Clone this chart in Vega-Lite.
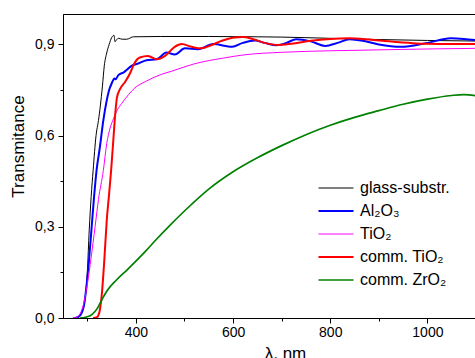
{
  "$schema": "https://vega.github.io/schema/vega-lite/v6.json",
  "width": 413,
  "height": 304,
  "autosize": {"type": "none"},
  "padding": {"left": 63, "top": 14, "right": 0, "bottom": 40},
  "background": "white",
  "config": {"view": {"stroke": "black", "strokeWidth": 1}, "font": "Liberation Sans"},
  "data": {"values": [
    {"s": "glass-substr.", "l": 270, "t": 0},
    {"s": "glass-substr.", "l": 280, "t": 0.003},
    {"s": "glass-substr.", "l": 287, "t": 0.015},
    {"s": "glass-substr.", "l": 292, "t": 0.035},
    {"s": "glass-substr.", "l": 296, "t": 0.07},
    {"s": "glass-substr.", "l": 300, "t": 0.15},
    {"s": "glass-substr.", "l": 304, "t": 0.29},
    {"s": "glass-substr.", "l": 308, "t": 0.4},
    {"s": "glass-substr.", "l": 312, "t": 0.485},
    {"s": "glass-substr.", "l": 318, "t": 0.6},
    {"s": "glass-substr.", "l": 323, "t": 0.65},
    {"s": "glass-substr.", "l": 327, "t": 0.7},
    {"s": "glass-substr.", "l": 331, "t": 0.76},
    {"s": "glass-substr.", "l": 335, "t": 0.83},
    {"s": "glass-substr.", "l": 340, "t": 0.872},
    {"s": "glass-substr.", "l": 345, "t": 0.9},
    {"s": "glass-substr.", "l": 350, "t": 0.922},
    {"s": "glass-substr.", "l": 355, "t": 0.93},
    {"s": "glass-substr.", "l": 357, "t": 0.909},
    {"s": "glass-substr.", "l": 360, "t": 0.915},
    {"s": "glass-substr.", "l": 364, "t": 0.92},
    {"s": "glass-substr.", "l": 372, "t": 0.917},
    {"s": "glass-substr.", "l": 381, "t": 0.917},
    {"s": "glass-substr.", "l": 395, "t": 0.925},
    {"s": "glass-substr.", "l": 450, "t": 0.926},
    {"s": "glass-substr.", "l": 550, "t": 0.926},
    {"s": "glass-substr.", "l": 650, "t": 0.925},
    {"s": "glass-substr.", "l": 700, "t": 0.924},
    {"s": "glass-substr.", "l": 800, "t": 0.92},
    {"s": "glass-substr.", "l": 900, "t": 0.916},
    {"s": "glass-substr.", "l": 1000, "t": 0.913},
    {"s": "glass-substr.", "l": 1100, "t": 0.911},

    {"s": "Al₂O₃", "l": 275, "t": 0},
    {"s": "Al₂O₃", "l": 282, "t": 0.004},
    {"s": "Al₂O₃", "l": 288, "t": 0.015},
    {"s": "Al₂O₃", "l": 293, "t": 0.04},
    {"s": "Al₂O₃", "l": 298, "t": 0.1},
    {"s": "Al₂O₃", "l": 303, "t": 0.18},
    {"s": "Al₂O₃", "l": 309, "t": 0.3},
    {"s": "Al₂O₃", "l": 314, "t": 0.4},
    {"s": "Al₂O₃", "l": 319, "t": 0.485},
    {"s": "Al₂O₃", "l": 326, "t": 0.563},
    {"s": "Al₂O₃", "l": 333, "t": 0.65},
    {"s": "Al₂O₃", "l": 340, "t": 0.716},
    {"s": "Al₂O₃", "l": 345, "t": 0.75},
    {"s": "Al₂O₃", "l": 350, "t": 0.771},
    {"s": "Al₂O₃", "l": 356, "t": 0.788},
    {"s": "Al₂O₃", "l": 358, "t": 0.785},
    {"s": "Al₂O₃", "l": 364, "t": 0.799},
    {"s": "Al₂O₃", "l": 375, "t": 0.808},
    {"s": "Al₂O₃", "l": 391, "t": 0.829},
    {"s": "Al₂O₃", "l": 405, "t": 0.837},
    {"s": "Al₂O₃", "l": 422, "t": 0.848},
    {"s": "Al₂O₃", "l": 443, "t": 0.851},
    {"s": "Al₂O₃", "l": 463, "t": 0.873},
    {"s": "Al₂O₃", "l": 480, "t": 0.867},
    {"s": "Al₂O₃", "l": 501, "t": 0.887},
    {"s": "Al₂O₃", "l": 528, "t": 0.884},
    {"s": "Al₂O₃", "l": 559, "t": 0.901},
    {"s": "Al₂O₃", "l": 598, "t": 0.892},
    {"s": "Al₂O₃", "l": 620, "t": 0.905},
    {"s": "Al₂O₃", "l": 645, "t": 0.913},
    {"s": "Al₂O₃", "l": 665, "t": 0.905},
    {"s": "Al₂O₃", "l": 690, "t": 0.897},
    {"s": "Al₂O₃", "l": 710, "t": 0.905},
    {"s": "Al₂O₃", "l": 730, "t": 0.917},
    {"s": "Al₂O₃", "l": 760, "t": 0.91},
    {"s": "Al₂O₃", "l": 790, "t": 0.895},
    {"s": "Al₂O₃", "l": 815, "t": 0.905},
    {"s": "Al₂O₃", "l": 840, "t": 0.917},
    {"s": "Al₂O₃", "l": 870, "t": 0.911},
    {"s": "Al₂O₃", "l": 900, "t": 0.9},
    {"s": "Al₂O₃", "l": 945, "t": 0.892},
    {"s": "Al₂O₃", "l": 1000, "t": 0.905},
    {"s": "Al₂O₃", "l": 1048, "t": 0.92},
    {"s": "Al₂O₃", "l": 1075, "t": 0.918},
    {"s": "Al₂O₃", "l": 1100, "t": 0.914},

    {"s": "TiO₂", "l": 272, "t": 0},
    {"s": "TiO₂", "l": 280, "t": 0.004},
    {"s": "TiO₂", "l": 287, "t": 0.02},
    {"s": "TiO₂", "l": 293, "t": 0.05},
    {"s": "TiO₂", "l": 300, "t": 0.11},
    {"s": "TiO₂", "l": 308, "t": 0.2},
    {"s": "TiO₂", "l": 316, "t": 0.3},
    {"s": "TiO₂", "l": 323, "t": 0.39},
    {"s": "TiO₂", "l": 333, "t": 0.485},
    {"s": "TiO₂", "l": 340, "t": 0.574},
    {"s": "TiO₂", "l": 347, "t": 0.625},
    {"s": "TiO₂", "l": 354, "t": 0.656},
    {"s": "TiO₂", "l": 362, "t": 0.685},
    {"s": "TiO₂", "l": 371, "t": 0.706},
    {"s": "TiO₂", "l": 385, "t": 0.735},
    {"s": "TiO₂", "l": 398, "t": 0.757},
    {"s": "TiO₂", "l": 420, "t": 0.778},
    {"s": "TiO₂", "l": 450, "t": 0.8},
    {"s": "TiO₂", "l": 474, "t": 0.812},
    {"s": "TiO₂", "l": 520, "t": 0.836},
    {"s": "TiO₂", "l": 580, "t": 0.855},
    {"s": "TiO₂", "l": 625, "t": 0.866},
    {"s": "TiO₂", "l": 700, "t": 0.874},
    {"s": "TiO₂", "l": 800, "t": 0.879},
    {"s": "TiO₂", "l": 900, "t": 0.882},
    {"s": "TiO₂", "l": 1000, "t": 0.885},
    {"s": "TiO₂", "l": 1100, "t": 0.887},

    {"s": "comm. TiO₂", "l": 312, "t": 0},
    {"s": "comm. TiO₂", "l": 320, "t": 0.003},
    {"s": "comm. TiO₂", "l": 325, "t": 0.02},
    {"s": "comm. TiO₂", "l": 330, "t": 0.08},
    {"s": "comm. TiO₂", "l": 335, "t": 0.19},
    {"s": "comm. TiO₂", "l": 340, "t": 0.32},
    {"s": "comm. TiO₂", "l": 345, "t": 0.41},
    {"s": "comm. TiO₂", "l": 349, "t": 0.485},
    {"s": "comm. TiO₂", "l": 354, "t": 0.595},
    {"s": "comm. TiO₂", "l": 358, "t": 0.68},
    {"s": "comm. TiO₂", "l": 361, "t": 0.725},
    {"s": "comm. TiO₂", "l": 367, "t": 0.752},
    {"s": "comm. TiO₂", "l": 378, "t": 0.777},
    {"s": "comm. TiO₂", "l": 388, "t": 0.805},
    {"s": "comm. TiO₂", "l": 396, "t": 0.835},
    {"s": "comm. TiO₂", "l": 408, "t": 0.857},
    {"s": "comm. TiO₂", "l": 425, "t": 0.862},
    {"s": "comm. TiO₂", "l": 443, "t": 0.851},
    {"s": "comm. TiO₂", "l": 460, "t": 0.862},
    {"s": "comm. TiO₂", "l": 480, "t": 0.892},
    {"s": "comm. TiO₂", "l": 494, "t": 0.901},
    {"s": "comm. TiO₂", "l": 515, "t": 0.892},
    {"s": "comm. TiO₂", "l": 535, "t": 0.887},
    {"s": "comm. TiO₂", "l": 556, "t": 0.898},
    {"s": "comm. TiO₂", "l": 577, "t": 0.912},
    {"s": "comm. TiO₂", "l": 604, "t": 0.923},
    {"s": "comm. TiO₂", "l": 620, "t": 0.924},
    {"s": "comm. TiO₂", "l": 640, "t": 0.918},
    {"s": "comm. TiO₂", "l": 665, "t": 0.905},
    {"s": "comm. TiO₂", "l": 692, "t": 0.898},
    {"s": "comm. TiO₂", "l": 720, "t": 0.902},
    {"s": "comm. TiO₂", "l": 760, "t": 0.912},
    {"s": "comm. TiO₂", "l": 800, "t": 0.918},
    {"s": "comm. TiO₂", "l": 840, "t": 0.92},
    {"s": "comm. TiO₂", "l": 880, "t": 0.916},
    {"s": "comm. TiO₂", "l": 920, "t": 0.91},
    {"s": "comm. TiO₂", "l": 970, "t": 0.904},
    {"s": "comm. TiO₂", "l": 1000, "t": 0.902},
    {"s": "comm. TiO₂", "l": 1050, "t": 0.901},
    {"s": "comm. TiO₂", "l": 1100, "t": 0.901},

    {"s": "comm. ZrO₂", "l": 285, "t": 0},
    {"s": "comm. ZrO₂", "l": 300, "t": 0.004},
    {"s": "comm. ZrO₂", "l": 310, "t": 0.012},
    {"s": "comm. ZrO₂", "l": 320, "t": 0.03},
    {"s": "comm. ZrO₂", "l": 330, "t": 0.06},
    {"s": "comm. ZrO₂", "l": 340, "t": 0.088},
    {"s": "comm. ZrO₂", "l": 360, "t": 0.125},
    {"s": "comm. ZrO₂", "l": 381, "t": 0.157},
    {"s": "comm. ZrO₂", "l": 400, "t": 0.187},
    {"s": "comm. ZrO₂", "l": 420, "t": 0.22},
    {"s": "comm. ZrO₂", "l": 440, "t": 0.255},
    {"s": "comm. ZrO₂", "l": 470, "t": 0.305},
    {"s": "comm. ZrO₂", "l": 500, "t": 0.352},
    {"s": "comm. ZrO₂", "l": 550, "t": 0.424},
    {"s": "comm. ZrO₂", "l": 600, "t": 0.481},
    {"s": "comm. ZrO₂", "l": 650, "t": 0.527},
    {"s": "comm. ZrO₂", "l": 700, "t": 0.567},
    {"s": "comm. ZrO₂", "l": 750, "t": 0.603},
    {"s": "comm. ZrO₂", "l": 800, "t": 0.634},
    {"s": "comm. ZrO₂", "l": 850, "t": 0.66},
    {"s": "comm. ZrO₂", "l": 900, "t": 0.682},
    {"s": "comm. ZrO₂", "l": 950, "t": 0.703},
    {"s": "comm. ZrO₂", "l": 1000, "t": 0.72},
    {"s": "comm. ZrO₂", "l": 1050, "t": 0.732},
    {"s": "comm. ZrO₂", "l": 1075, "t": 0.735},
    {"s": "comm. ZrO₂", "l": 1100, "t": 0.731}
  ]},
  "mark": {"type": "line", "interpolate": "monotone", "clip": true},
  "encoding": {
    "x": {
      "field": "l", "type": "quantitative",
      "scale": {"domain": [250, 1100], "nice": false, "zero": false},
      "axis": {
        "values": [300, 400, 500, 600, 700, 800, 900, 1000, 1100],
        "title": "λ, nm", "grid": false,
        "domainColor": "black", "tickColor": "black",
        "tickSize": {"condition": {"test": "datum.value % 200 === 0", "value": 5}, "value": 3},
        "labelExpr": "datum.value % 200 === 0 ? datum.label : ''",
        "format": "d", "labelFontSize": 14, "labelColor": "black", "labelPadding": 2,
        "labelOverlap": false, "labelFlush": false,
        "titleFontSize": 17, "titleFontWeight": "normal", "titleColor": "black",
        "titleX": 222, "titleY": 40, "titleBaseline": "alphabetic"
      }
    },
    "y": {
      "field": "t", "type": "quantitative",
      "scale": {"domain": [0, 1], "nice": false},
      "axis": {
        "values": [0, 0.15, 0.3, 0.45, 0.6, 0.75, 0.9],
        "title": "Transmitance", "grid": false,
        "domainColor": "black", "tickColor": "black",
        "tickSize": {"condition": {"test": "abs(datum.value*10/3 - round(datum.value*10/3)) < 0.01", "value": 5}, "value": 3},
        "labelExpr": "abs(datum.value*10/3 - round(datum.value*10/3)) < 0.01 ? replace(format(datum.value, '.1f'), '.', ',') : ''",
        "labelFontSize": 14, "labelColor": "black", "labelPadding": 4,
        "labelOverlap": false, "labelFlush": false,
        "titleFontSize": 17, "titleFontWeight": "normal", "titleColor": "black",
        "titleX": -45, "titleY": 132, "titleAngle": -90, "titleAlign": "center", "titleBaseline": "middle"
      }
    },
    "color": {
      "field": "s", "type": "nominal",
      "scale": {"domain": ["glass-substr.", "Al₂O₃", "TiO₂", "comm. TiO₂", "comm. ZrO₂"], "range": ["#000000", "#0000FF", "#FF00FF", "#FF0000", "#008000"]},
      "legend": {"orient": "none", "legendX": 265, "legendY": 166, "title": null, "symbolType": "M-3,0H3", "symbolSize": 136, "labelFontSize": 16, "labelColor": "black", "labelOffset": 16, "rowPadding": 7, "padding": 0}
    },
    "strokeWidth": {
      "field": "s", "type": "nominal",
      "scale": {"type": "ordinal", "domain": ["glass-substr.", "Al₂O₃", "TiO₂", "comm. TiO₂", "comm. ZrO₂"], "range": [1, 2, 1, 2, 1.7]},
      "legend": {"orient": "none", "legendX": 265, "legendY": 166, "title": null, "symbolType": "M-3,0H3", "symbolSize": 136, "labelFontSize": 16, "labelColor": "black", "labelOffset": 16, "rowPadding": 7, "padding": 0}
    }
  }
}
